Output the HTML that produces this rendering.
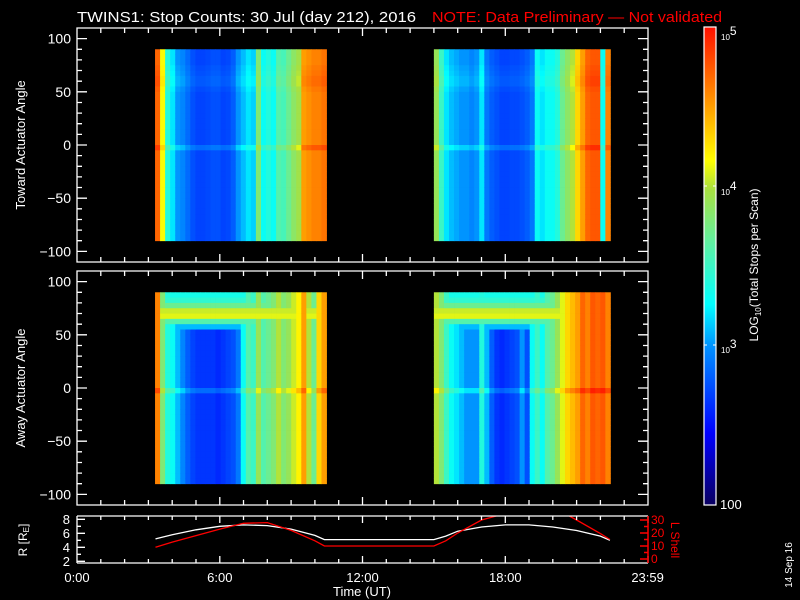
<!DOCTYPE html>
<html><head><meta charset="utf-8"><style>
html,body{margin:0;padding:0;background:#000;}
svg{display:block;font-family:"Liberation Sans",sans-serif;}
</style></head><body>
<svg id="chart" width="800" height="600" viewBox="0 0 800 600" xmlns="http://www.w3.org/2000/svg">
<rect width="800" height="600" fill="#000"/>
<defs>
<linearGradient id="cbg" x1="0" y1="1" x2="0" y2="0">
<stop offset="0" stop-color="#0a0060"/><stop offset="0.15" stop-color="#0000ff"/><stop offset="0.33" stop-color="#0090ff"/><stop offset="0.42" stop-color="#00ffff"/><stop offset="0.55" stop-color="#60f0a0"/><stop offset="0.66" stop-color="#a8e040"/><stop offset="0.72" stop-color="#ffff00"/><stop offset="0.85" stop-color="#ff9000"/><stop offset="1" stop-color="#ff1000"/>
</linearGradient>
<clipPath id="smallclip"><rect x="77" y="516" width="571" height="47"/></clipPath>
</defs>
<text x="77" y="22" fill="#fff" font-size="15" textLength="339" lengthAdjust="spacingAndGlyphs">TWINS1: Stop Counts: 30 Jul (day 212), 2016</text>
<text x="432" y="22" fill="#ff0000" font-size="15" textLength="290" lengthAdjust="spacingAndGlyphs">NOTE: Data Preliminary — Not validated</text>
<g id="g-top"></g>
<g id="g-bot"></g>
<g id="g-small"></g>
<g id="g-axes"></g>
<text transform="translate(25,145) rotate(-90)" text-anchor="middle" fill="#fff" font-size="13">Toward Actuator Angle</text>
<text transform="translate(25,388) rotate(-90)" text-anchor="middle" fill="#fff" font-size="13">Away Actuator Angle</text>
<text transform="translate(27,540) rotate(-90)" text-anchor="middle" fill="#fff" font-size="12">R [R<tspan font-size="8" dy="2">E</tspan><tspan dy="-2">]</tspan></text>
<text transform="translate(671,540) rotate(90)" text-anchor="middle" fill="#ff0000" font-size="12">L Shell</text>
<text x="362" y="596" text-anchor="middle" fill="#fff" font-size="13">Time (UT)</text>
<text transform="translate(792,565) rotate(-90)" text-anchor="middle" fill="#fff" font-size="10">14 Sep 16</text>
<rect x="704" y="27" width="12" height="478" fill="url(#cbg)" stroke="#fff" stroke-width="1.2"/>
<g fill="#fff">
<text x="721" y="40" font-size="8">10<tspan font-size="12" dy="-5">5</tspan></text>
<text x="721" y="195" font-size="8">10<tspan font-size="12" dy="-5">4</tspan></text>
<text x="721" y="353" font-size="8">10<tspan font-size="12" dy="-5">3</tspan></text>
<text x="720" y="509" font-size="13">100</text>
</g>
<path d="M704 186h3M713 186h3M704 345h3M713 345h3" stroke="#fff"/>
<text transform="translate(758,265) rotate(-90)" text-anchor="middle" fill="#fff" font-size="12">LOG<tspan font-size="8" dy="3">10</tspan><tspan dy="-3">(Total Stops per Scan)</tspan></text>
</svg>
<script>
// ---- data ----
const blockStarts = [3.28, 15.0];
const colHours = 0.212;
const topBlock1 = [4.7,4.15,3.4,3.2,3.0,2.95,2.85,2.75,2.7,2.7,2.72,2.75,2.75,2.7,2.72,2.8,3.0,3.1,3.2,3.15,3.8,3.3,3.4,3.3,3.6,3.55,3.7,3.85,3.95,4.5,4.55,4.6,4.6,4.65];
const topBlock2 = [3.9,3.5,3.2,3.1,3.05,3.0,3.0,2.95,3.0,3.2,2.9,2.8,2.75,2.7,2.7,2.72,2.72,2.75,2.8,2.9,3.3,3.2,3.3,3.3,3.4,3.7,3.85,4.0,4.3,4.5,4.7,4.75,4.75,3.3,4.6];
const botBlock1 = [4.6,3.8,3.4,3.3,3.1,2.95,2.8,2.7,2.65,2.65,2.65,2.65,2.6,2.65,2.7,2.75,2.9,3.3,3.6,3.5,3.9,3.6,3.7,3.8,4.0,3.8,3.9,4.05,4.2,4.5,4.0,3.7,4.3,4.5];
const botBlock2 = [4.0,3.8,3.5,3.3,3.2,3.1,3.0,3.0,3.0,3.4,3.1,2.8,2.65,2.6,2.65,2.7,2.75,3.0,2.75,3.3,3.5,3.3,3.6,3.7,3.9,4.1,4.3,4.4,4.5,4.7,4.6,4.75,4.7,4.75,4.6];
const rowAngles = [90,85,80,75,70,65,60,55,50,45,40,35,30,25,20,15,10,5,0,-5,-10,-15,-20,-25,-30,-35,-40,-45,-50,-55,-60,-65,-70,-75,-80,-85];
const topRowAdj = [0,0,0,0.03,0.05,0.08,0.08,0.03,0,0,0,0,0,0,0,0,0,0,0.15,0,0,0,0,0,0,0,0,0,0,0,0,0,0,0,0,0];
const botRowAdj = [0,0,0,0,0,0,0,0,0,0,0,0,0,0,0,0,0,0,0.2,0,0,0,0,0,0,0,0,0,0,0,0,0,0,0,0,0];
const botRowFloor = [3.35,3.45,3.7,4.05,4.1,3.6,3.1,2,2,2,2,2,2,2,2,2,2,2,2,2,2,2,2,2,2,2,2,2,2,2,2,2,2,2,2,2];
const topRowFloor = rowAngles.map(() => 2);
const orbitHours = [3.3,4,5,6,7,8,9,10,10.4,15,15.5,16,17,18,19,20,21,22,22.4];
const orbitR = [5.2,5.8,6.5,7.0,7.2,7.1,6.6,5.7,5.1,5.1,5.6,6.3,6.9,7.2,7.2,6.9,6.4,5.6,5.0];
const orbitL = [9,13,18,23,27.5,28,22,14,10,10,14,20,30,35,40,40,30,19.5,15];
const angleTicks = [-100,-50,0,50,100];
const rTicks = [2,4,6,8];
const lTicks = [0,10,20,30];
const timeTicks = [0,6,12,18,23.983];
const timeLabels = ["0:00","6:00","12:00","18:00","23:59"];

const X0=77, X1=648;
const xT = h => X0 + (h/24)*(X1-X0);
const yTop = a => 145 - a*(234/220);
const yBot = a => 388 - a*(234/220);
const yR = r => 519.3 + (8-r)*7;
const yL = l => 559 - l*(39/30);
const stops=[[0,[10,0,96]],[0.15,[0,0,255]],[0.33,[0,144,255]],[0.42,[0,255,255]],[0.55,[96,240,160]],[0.66,[168,224,64]],[0.72,[255,255,0]],[0.85,[255,144,0]],[1,[255,16,0]]];
function cmap(v){let t=Math.max(0,Math.min(1,(v-2)/3));for(let i=1;i<stops.length;i++){if(t<=stops[i][0]){const a=stops[i-1],b=stops[i];const f=(t-a[0])/(b[0]-a[0]);const c=a[1].map((x,k)=>Math.round(x+(b[1][k]-x)*f));return 'rgb('+c.join(',')+')';}}return 'rgb(255,16,0)';}
const NS='http://www.w3.org/2000/svg';
function mk(tag,attrs,parent){const e=document.createElementNS(NS,tag);for(const k in attrs)e.setAttribute(k,attrs[k]);parent.appendChild(e);return e;}

function drawPanel(gid, blocks, adj, floor, yF, name){
  const g=document.getElementById(gid);
  blocks.forEach((vals,b)=>{
    vals.forEach((v,i)=>{
      const t0=blockStarts[b]+i*colHours, x0=xT(t0), x1=xT(t0+colHours);
      rowAngles.forEach((a,j)=>{
        const y0=yF(a), y1=yF(a-5);
        const val=Math.max(v+adj[j], floor[j]);
        const r=mk('rect',{x:x0.toFixed(2),y:y0.toFixed(2),width:(x1-x0+0.4).toFixed(2),height:(y1-y0+0.4).toFixed(2),fill:cmap(val)},g);
        
        
      });
    });
  });
}
drawPanel('g-top',[topBlock1,topBlock2],topRowAdj,topRowFloor,yTop,'toward');
drawPanel('g-bot',[botBlock1,botBlock2],botRowAdj,botRowFloor,yBot,'away');

const gs=document.getElementById('g-small');
const ptsR=orbitHours.map((h,i)=>xT(h).toFixed(1)+','+yR(orbitR[i]).toFixed(1)).join(' ');
const ptsL=orbitHours.map((h,i)=>xT(h).toFixed(1)+','+yL(orbitL[i]).toFixed(1)).join(' ');
const lr=mk('polyline',{points:ptsR,fill:'none',stroke:'#fff','stroke-width':1.3,'clip-path':'url(#smallclip)'},gs);


const ll=mk('polyline',{points:ptsL,fill:'none',stroke:'#ff0000','stroke-width':1.3,'clip-path':'url(#smallclip)'},gs);



const ga=document.getElementById('g-axes');
let d='';
[[28,262,yTop],[271,505,yBot]].forEach(([t,bm,yF])=>{
  d+='M'+X0+' '+t+'H'+X1+'V'+bm+'H'+X0+'Z';
  for(let a=-110;a<=110;a+=10){const y=yF(a).toFixed(1);const L=(a%50===0)?10:5;d+='M'+X0+' '+y+'h'+L+'M'+X1+' '+y+'h'+(-L);}
  for(let h=0;h<=24;h++){const x=xT(h).toFixed(1);const L=(h%6===0)?8:5;d+='M'+x+' '+bm+'v'+(-L)+'M'+x+' '+t+'v'+L;}
});
d+='M'+X0+' 516H'+X1+'M'+X0+' 563H'+X1+'M'+X0+' 516V563';
for(let r=2;r<=8;r++){const y=yR(r).toFixed(1);const L=(r%2===0)?8:4;d+='M'+X0+' '+y+'h'+L;}
for(let h=0;h<=24;h++){const x=xT(h).toFixed(1);const L=(h%6===0)?7:4;d+='M'+x+' 563v'+(-L)+'M'+x+' 516v'+L;}
const fr=mk('path',{d:d,stroke:'#fff','stroke-width':1.3,fill:'none'},ga);


let dl='';
for(let l=0;l<=30;l+=5){const y=yL(l).toFixed(1);const L=(l%10===0)?8:4;dl+='M'+X1+' '+y+'h'+(-L);}
dl+='M'+X1+' 516V563';
const lf=mk('path',{d:dl,stroke:'#ff0000','stroke-width':1.5,fill:'none'},ga);



function lab(x,y,s,anchor,fill,size,name){const e=mk('text',{x:x,y:y,'text-anchor':anchor,fill:fill,'font-size':size},ga);e.textContent=s;}
angleTicks.forEach(a=>{
  lab(71,(yTop(a)+5).toFixed(1),a<0?'\u2212'+(-a):String(a),'end','#fff',14,'toward-y-tick-label');
  lab(71,(yBot(a)+5).toFixed(1),a<0?'\u2212'+(-a):String(a),'end','#fff',14,'away-y-tick-label');
});
rTicks.forEach(r=>lab(70,(yR(r)+4.5).toFixed(1),String(r),'end','#fff',13,'r-tick-label'));
lTicks.forEach(l=>lab(651,(yL(l)+4).toFixed(1),String(l),'start','#ff0000',12,'l-tick-label'));
timeTicks.forEach((h,i)=>lab(xT(h).toFixed(1),582,timeLabels[i],'middle','#fff',13,'x-tick-label'));
</script>
</body></html>
